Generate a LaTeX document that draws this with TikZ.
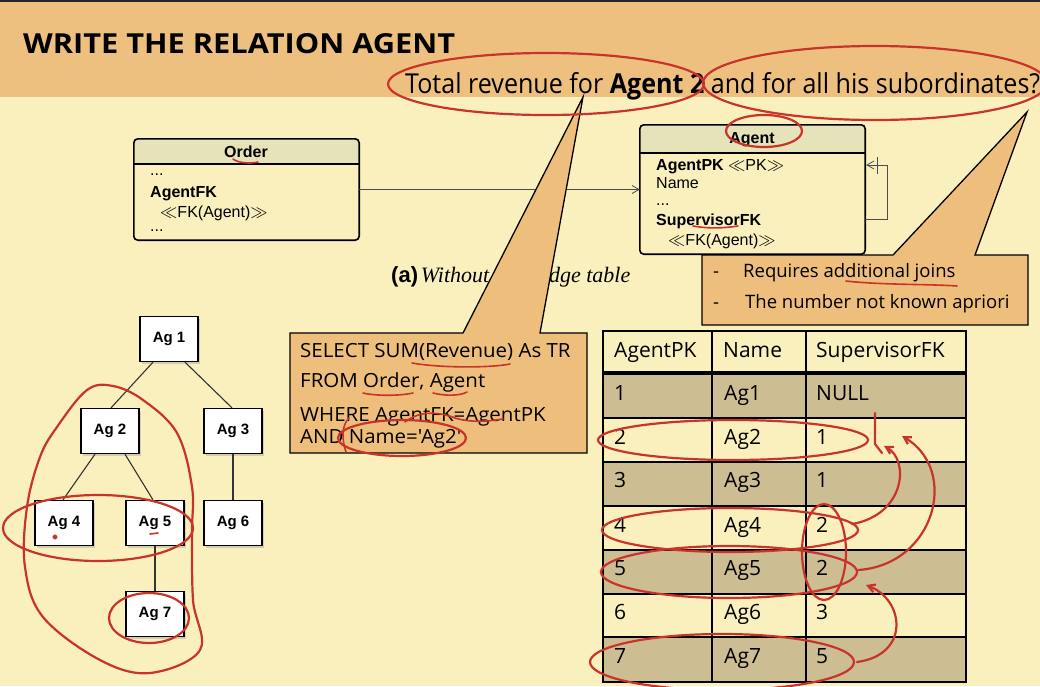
\documentclass[tikz,border=0pt]{standalone}
\usepackage{fontspec}
\usetikzlibrary{arrows.meta,shadows}
\setmainfont{Liberation Sans}
\newfontfamily\comic{Open Sans}
\newfontfamily\comicw[FakeStretch=1.05]{Open Sans}
\newfontfamily\helv{Liberation Sans}
\newfontfamily\tms{Liberation Serif}
\definecolor{hdr}{RGB}{238,192,128}
\definecolor{bodybg}{RGB}{250,240,190}
\definecolor{callfill}{RGB}{238,190,125}
\definecolor{umlhead}{RGB}{230,226,186}
\definecolor{khaki}{RGB}{204,190,146}
\definecolor{pen}{RGB}{200,52,42}
\tikzset{
  umltxt/.style={anchor=base west, inner sep=0pt, font=\helv\fontsize{16}{19}\selectfont},
  agbox/.style={draw, line width=1.3pt, fill=white, minimum width=58pt, minimum height=45pt, inner sep=0pt,
    drop shadow={opacity=0.3, shadow xshift=2pt, shadow yshift=-2pt},
    font=\helv\bfseries\fontsize{15}{18}\selectfont},
  treeedge/.style={draw=black!80, line width=1.1pt},
  pen/.style={draw=pen, line width=2.2pt, line cap=round, line join=round},
  penthin/.style={draw=pen, line width=1.6pt, line cap=round},
  sqltxt/.style={anchor=base west, inner sep=0pt, font=\comicw\fontsize{19.5}{22}\selectfont},
  calltxt/.style={anchor=base west, inner sep=0pt, font=\comic\fontsize{18.5}{22}\selectfont},
  tbltxt/.style={anchor=base west, inner sep=0pt, font=\comic\fontsize{21}{25}\selectfont},
  greyline/.style={draw=black!70, line width=0.8pt},
  barb/.style={-{Straight Barb[length=7pt,width=8pt]}},
}
\begin{document}
\begin{tikzpicture}[x=1pt,y=-1pt]
\useasboundingbox (0,0) rectangle (1040,686);
\fill[bodybg] (0,0) rectangle (1040,686);
\fill[hdr] (0,0) rectangle (1040,97);
\fill[black!85] (0,0) rectangle (1040,2);

% title and question
\node[anchor=base west, inner sep=0pt] (title) at (23,53)
  {\resizebox{432pt}{20pt}{\comic\bfseries\fontsize{28}{32}\selectfont WRITE THE RELATION AGENT}};
\node[anchor=base west, inner sep=0pt] (question) at (405,93)
  {\resizebox{635pt}{21pt}{\comic\fontsize{28}{32}\selectfont Total revenue for \textbf{Agent 2} and for all his subordinates?}};

% Order UML box
\node[minimum width=225pt, minimum height=101pt, inner sep=0pt] (order) at (246.5,189.5) {};
\begin{scope}
  \clip[rounded corners=4pt] (order.north west) rectangle (order.south east);
  \fill[umlhead] (order.north west) rectangle ([yshift=-25pt]order.north east);
\end{scope}
\draw[line width=1.8pt] ([yshift=-25pt]order.north west) -- ([yshift=-25pt]order.north east);
\draw[line width=1.6pt, rounded corners=4pt] (order.north west) rectangle (order.south east);
\node[umltxt, anchor=base] (ordername) at (246,157) {\bfseries Order};
\node[umltxt] (od1) at (150,175) {...};
\node[umltxt] (od2) at (150,197) {\bfseries AgentFK};
\node[umltxt] (od3) at (160,217) {$\ll$FK(Agent)$\gg$};
\node[umltxt] (od4) at (150,231) {...};

% Agent UML box
\node[minimum width=225pt, minimum height=129pt, inner sep=0pt] (agent) at (752.5,189.5) {};
\begin{scope}
  \clip[rounded corners=4pt] (agent.north west) rectangle (agent.south east);
  \fill[umlhead] (agent.north west) rectangle ([yshift=-28pt]agent.north east);
\end{scope}
\draw[line width=1.8pt] ([yshift=-28pt]agent.north west) -- ([yshift=-28pt]agent.north east);
\draw[line width=1.6pt, rounded corners=4pt] (agent.north west) rectangle (agent.south east);
\node[umltxt, anchor=base] (agentname) at (752,143) {\bfseries Agent};
\node[umltxt] (ag1t) at (656,170) {\bfseries AgentPK \mdseries $\ll$PK$\gg$};
\node[umltxt] (ag2t) at (656,188) {Name};
\node[umltxt] (ag3t) at (656,205) {...};
\node[umltxt] (ag4t) at (656,225) {\bfseries SupervisorFK};
\node[umltxt] (ag5t) at (668,245) {$\ll$FK(Agent)$\gg$};

% association arrow and self loop
\draw[greyline, barb] (order.east) -- (agent.west);
\coordinate (loopa) at ([yshift=-29.5pt]agent.east);
\coordinate (loopb) at ([xshift=1pt,yshift=24.5pt]agent.east);
\coordinate (loopc) at ([xshift=22pt]loopa);
\draw[greyline, barb] (loopa) -- (loopc) |- (loopb);
\coordinate (tick) at ([xshift=12pt,yshift=24.5pt]agent.east);
\draw[greyline] ([yshift=8pt]tick) -- ([yshift=-9pt]tick);

% caption
\node[anchor=base west, inner sep=0pt] (caption) at (391,282)
  {{\helv\bfseries\fontsize{22}{26}\selectfont (a)} {\tms\itshape\fontsize{22}{26}\selectfont Without\hspace{34pt}bridge table}};

% SQL callout
\filldraw[fill=callfill, draw=black, line width=1.3pt] (290,333) -- (463,333) -- (583,97) -- (540,333) -- (587,333) -- (587,453) -- (290,453) -- cycle;
\node[sqltxt] (sql1) at (300,357) {SELECT SUM(Revenue) As TR};
\node[sqltxt] (sql2) at (300,387) {FROM Order, Agent};
\node[sqltxt] (sql3) at (300,421) {WHERE AgentFK=AgentPK};
\node[sqltxt] (sql4) at (300,443) {AND Name='Ag2'};

% right callout
\filldraw[fill=callfill, draw=black, line width=1.3pt] (702,255) -- (893,255) -- (1027,112) -- (975,255) -- (1028,255) -- (1028,325) -- (702,325) -- cycle;
\node[calltxt] (cd1) at (713,277) {-};
\node[calltxt] (cl1) at (743,277) {Requires additional joins};
\node[calltxt] (cd2) at (713,308) {-};
\node[calltxt] (cl2) at (745,308) {The number not known apriori};

% table
\foreach \ya/\yb in {373/418, 462/506, 550/594, 637/682}
  \fill[khaki] (603,\ya) rectangle (966,\yb);
\foreach \yy in {418,462,506,550,594,637}
  \draw[line width=1.8pt] (603,\yy) -- (966,\yy);
\draw[line width=3.2pt] (603,373) -- (966,373);
\foreach \xx in {712,806}
  \draw[line width=1.8pt] (\xx,331) -- (\xx,682);
\draw[line width=2pt] (603,331) rectangle (966,682);
\node[tbltxt] (h1) at (614,357) {AgentPK};
\node[tbltxt] (h2) at (723,357) {Name};
\node[tbltxt] (h3) at (816,357) {SupervisorFK};
\foreach \i/\yy/\nm/\sup in {1/400/Ag1/NULL, 2/444/Ag2/1, 3/487/Ag3/1, 4/532/Ag4/2, 5/575/Ag5/2, 6/619/Ag6/3, 7/663/Ag7/5}{
  \node[tbltxt] (r\i a) at (614,\yy) {\i};
  \node[tbltxt] (r\i b) at (724,\yy) {\nm};
  \node[tbltxt] (r\i c) at (816,\yy) {\sup};
}

% tree
\node[agbox] (n1) at (169,339) {Ag 1};
\node[agbox] (n2) at (110,431) {Ag 2};
\node[agbox] (n3) at (233,431) {Ag 3};
\node[agbox] (n4) at (64,523) {Ag 4};
\node[agbox] (n5) at (155,523) {Ag 5};
\node[agbox] (n6) at (233,523) {Ag 6};
\node[agbox] (n7) at (155,614) {Ag 7};
\draw[treeedge] ([xshift=-16pt]n1.south) -- ([xshift=1pt]n2.north);
\draw[treeedge] ([xshift=16pt]n1.south) -- ([xshift=-1pt]n3.north);
\draw[treeedge] ([xshift=-15pt]n2.south) -- ([xshift=-1pt]n4.north);
\draw[treeedge] ([xshift=15pt]n2.south) -- ([xshift=-2pt]n5.north);
\draw[treeedge] (n3.south) -- (n6.north);
\draw[treeedge] (n5.south) -- (n7.north);

% red annotations
\draw[pen] (546,84) ellipse [x radius=158, y radius=31];
\draw[pen] (875,83) ellipse [x radius=172, y radius=37];
\draw[pen] (764,131) ellipse [x radius=38, y radius=16];
\draw[penthin] (233,159) .. controls (238,163) and (250,164) .. (258,162);
\draw[penthin] (693,226) .. controls (710,229) and (725,228) .. (738,226);
\draw[penthin] (846,281) .. controls (880,285) and (930,284) .. (957,286);
\draw[penthin] (412,363) .. controls (440,368) and (490,368) .. (510,364);
\draw[penthin] (363,393) .. controls (375,396) and (400,396) .. (413,393);
\draw[penthin] (433,393) .. controls (445,396) and (460,396) .. (467,392);
\draw[penthin] (405,422) .. controls (420,410) and (440,412) .. (455,418) .. controls (475,424) and (495,420) .. (503,419);
\draw[pen] (402,438) ellipse [x radius=64, y radius=18];
\draw[penthin] (346,452) .. controls (342,440) and (341,426) .. (349,418);
% tree marks
\draw[pen] plot[smooth cycle, tension=0.6] coordinates {(87,390) (113,386) (143,400) (177,433) (192,487) (192,533) (193,600) (200,650) (150,673) (100,660) (43,617) (25,567) (27,507) (40,457) (57,427)};
\draw[pen] (98,528) ellipse [x radius=95, y radius=33];
\draw[pen] (149,618) ellipse [x radius=40, y radius=25];
\fill[pen] (55,537) circle (1.5);
\draw[penthin] (150,534) -- (158,533);
% table marks
\draw[pen] (733,440) ellipse [x radius=135, y radius=20];
\draw[pen] (730,530) ellipse [x radius=128, y radius=22];
\draw[pen] (729,572) ellipse [x radius=128, y radius=26];
\draw[pen] (722,662) ellipse [x radius=132, y radius=28];
\draw[pen] (824,552) ellipse [x radius=22, y radius=48];
\draw[pen] (875,413) -- (875,444) -- (882,453);
\draw[pen, barb] (852,524) .. controls (905,515) and (910,460) .. (884,446);
\draw[pen, barb] (858,570) .. controls (935,565) and (960,470) .. (902,436);
\draw[pen, barb] (857,662) .. controls (910,655) and (905,600) .. (866,585);
\end{tikzpicture}
\end{document}
